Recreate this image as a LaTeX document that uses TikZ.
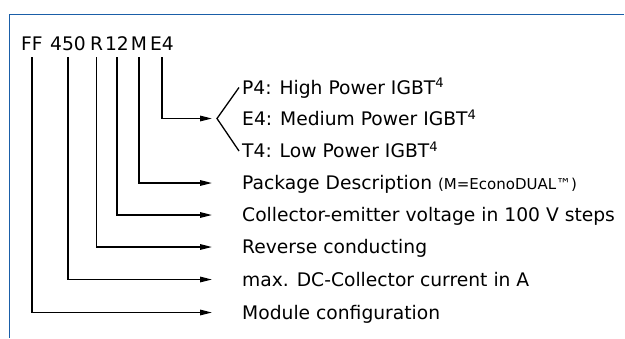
\documentclass[tikz,border=0pt]{standalone}
\usepackage{fontspec}
\setmainfont{DejaVu Sans}
\usetikzlibrary{arrows.meta,positioning}
\definecolor{frameblue}{HTML}{1A5EA8}

\begin{document}
\begin{tikzpicture}[
  x=1pt,y=-1pt,
  part/.style={anchor=south,inner sep=0pt,font=\fontsize{18.7}{22}\selectfont},
  desc/.style={anchor=west,inner sep=0pt,text height=13pt,text depth=0pt,font=\fontsize{18.7}{22}\selectfont},
  arrow/.style={-{Triangle[length=12pt,width=5.5pt]},line width=1.4pt,shorten <=6pt,shorten >=30pt},
  brace/.style={line width=1.3pt}
]
\useasboundingbox (0,0) rectangle (625,338);
\draw[frameblue,line width=1pt] (624,14) -- (9,14) -- (9,338);
% type code
\node[part] (ff) at (32,51) {FF};
\node[part] (cur) at (68,51) {450};
\node[part] (rc) at (96.5,51) {R};
\node[part] (volt) at (117,51) {12};
\node[part] (pkg) at (139,51) {M};
\node[part] (gen) at (162,51) {E4};
% descriptions
\node[desc] (p4) at (242,87.5) {P4: High Power IGBT\textsuperscript{4}};
\node[desc] (e4) at (242,119) {E4: Medium Power IGBT\textsuperscript{4}};
\node[desc] (t4) at (242,151) {T4: Low Power IGBT\textsuperscript{4}};
\node[desc] (dpkg) at (242,183) {Package Description {\fontsize{15}{17}\selectfont(M=EconoDUAL\texttrademark)}};
\node[desc] (dvolt) at (242,215) {Collector-emitter voltage in 100 V steps};
\node[desc] (drc) at (242,247) {Reverse conducting};
\node[desc] (dcur) at (242,279.5) {max. DC-Collector current in A};
\node[desc] (dff) at (242,312.5) {Module configuration};
\coordinate (brk) at (217,118.5);
% connectors
\draw[arrow,shorten >=5pt] (gen.south) |- (brk);
\draw[brace] ([xshift=-3pt]p4.west) -- (brk) -- ([xshift=-3pt]t4.west);
\draw[arrow] (pkg.south) |- (dpkg.west);
\draw[arrow] (volt.south) |- (dvolt.west);
\draw[arrow] (rc.south) |- (drc.west);
\draw[arrow] (cur.south) |- (dcur.west);
\draw[arrow] (ff.south) |- (dff.west);
\end{tikzpicture}
\end{document}
